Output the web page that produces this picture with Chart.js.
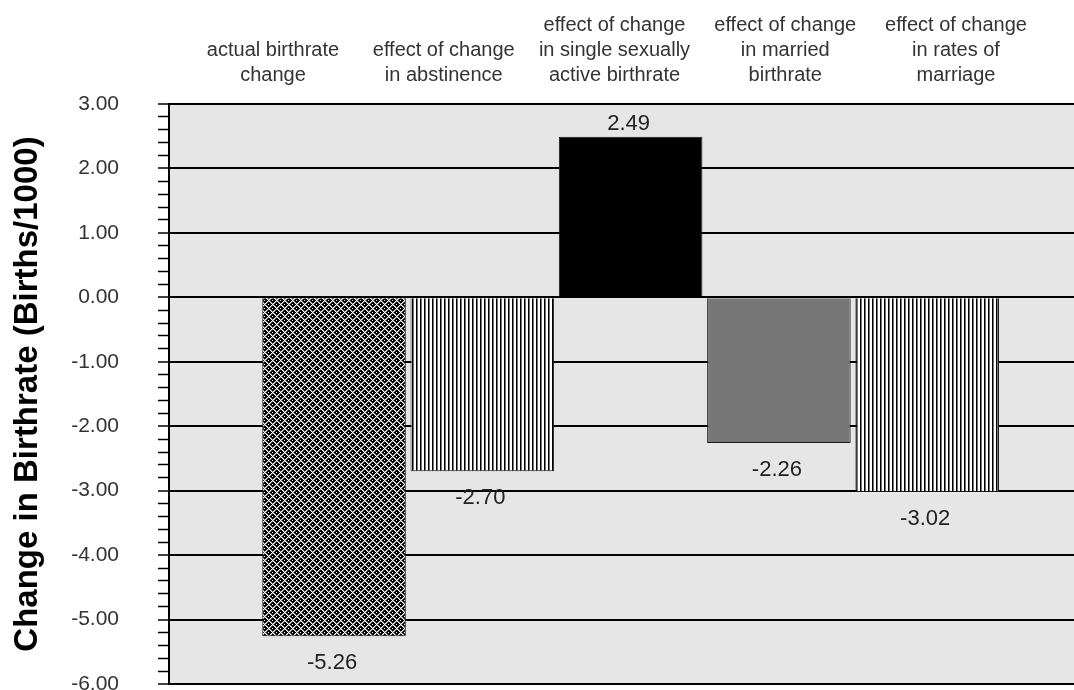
<!DOCTYPE html>
<html>
<head>
<meta charset="utf-8">
<script src="https://cdn.jsdelivr.net/npm/chart.js@4.4.1/dist/chart.umd.min.js"></script>
<style>
  html, body { margin: 0; padding: 0; background: #ffffff; }
  #wrap { width: 1074px; height: 690px; position: relative; }
</style>
</head>
<body>
<div id="wrap"><canvas id="chart"></canvas></div>
<script>
// Decomposition of the change in birthrate (births per 1000)
const categories = [
  ['actual birthrate', 'change'],
  ['effect of change', 'in abstinence'],
  ['effect of change', 'in single sexually', 'active birthrate'],
  ['effect of change', 'in married', 'birthrate'],
  ['effect of change', 'in rates of', 'marriage']
];
const changeValues = [-5.26, -2.70, 2.49, -2.26, -3.02];
const axisTitle = 'Change in Birthrate (Births/1000)';

const FONT = "'Liberation Sans', Arial, Helvetica, sans-serif";
const canvas = document.getElementById('chart');
const g2d = canvas.getContext('2d');

// small repeating bitmap tiles used as bar fills
function tilePattern(w, h, isDark) {
  const t = document.createElement('canvas');
  t.width = w; t.height = h;
  const c = t.getContext('2d');
  const img = c.createImageData(w, h);
  for (let y = 0; y < h; y++) {
    for (let x = 0; x < w; x++) {
      const k = (y * w + x) * 4;
      const v = isDark(x, y);          // 0 = white, 1 = black, fractions = grey
      const lum = Math.round(255 * (1 - v));
      img.data[k] = img.data[k + 1] = img.data[k + 2] = lum;
      img.data[k + 3] = 255;
    }
  }
  c.putImageData(img, 0, 0);
  return g2d.createPattern(t, 'repeat');
}
const mod = (a, n) => ((a % n) + n) % n;
// black diamonds separated by a white diagonal lattice, with a white dot in each diamond
const lattice = tilePattern(8, 8, (x, y) => {
  const d1 = mod(x - y, 8), d2 = mod(x + y, 8);
  if (d1 === 0 || d2 === 0) return 0;
  if (d1 === 4 && d2 === 4) return 0;
  if (d1 === 1 || d2 === 1) return 0.45;
  return 1;
});
// fine vertical hatching
const stripes = tilePattern(4, 4, (x) => (x === 0 ? 1 : x === 1 ? 0.55 : 0));
const barFills = [lattice, stripes, '#000000', '#777777', stripes];

const isWhole = v => Math.abs(v - Math.round(v)) < 1e-6;

// light grey plotting panel
const plotBackground = {
  id: 'plotBackground',
  beforeDraw(chart) {
    const { ctx, chartArea: a } = chart;
    ctx.save();
    ctx.fillStyle = '#e6e6e6';
    ctx.fillRect(a.left, a.top, a.right - a.left, a.bottom - a.top);
    ctx.restore();
  }
};

// value printed above positive bars and below negative ones
const valueLabels = {
  id: 'valueLabels',
  afterDatasetsDraw(chart) {
    const { ctx } = chart;
    const meta = chart.getDatasetMeta(0);
    ctx.save();
    ctx.font = '22px ' + FONT;
    ctx.fillStyle = '#222';
    ctx.textAlign = 'center';
    ctx.textBaseline = 'middle';
    meta.data.forEach((bar, i) => {
      const v = changeValues[i];
      const y = v >= 0 ? bar.y - 13 : bar.y + 27;
      ctx.fillText(v.toFixed(2), bar.x - 2, y);
    });
    ctx.restore();
  }
};

new Chart(canvas, {
  type: 'bar',
  data: {
    datasets: [{
      data: changeValues.map((v, i) => ({ x: i, y: v })),
      backgroundColor: barFills,
      borderColor: '#1a1a1a',
      borderWidth: 1,
      barPercentage: 0.978,
      categoryPercentage: 1,
      xAxisID: 'x',
      yAxisID: 'y'
    }]
  },
  options: {
    responsive: true,
    maintainAspectRatio: false,
    animation: false,
    layout: { padding: { left: 0, right: 0, top: 0, bottom: 6 } },
    plugins: { legend: { display: false }, tooltip: { enabled: false } },
    scales: {
      x: { type: 'linear', display: false, offset: false, min: -1.113, max: 4.99 },
      xTop: {
        type: 'linear',
        position: 'top',
        offset: false,
        min: -0.609,
        max: 4.691,
        afterBuildTicks: s => { s.ticks = categories.map((_, i) => ({ value: i })); },
        afterFit: s => { s.height = 104; },
        ticks: {
          autoSkip: false, maxRotation: 0, minRotation: 0,
          callback: (v, i) => categories[i],
          font: { family: FONT, size: 20, lineHeight: 1.25 },
          color: '#333',
          padding: 16
        },
        grid: { display: false, drawTicks: false, offset: false },
        border: { display: false }
      },
      y: {
        min: -6,
        max: 3,
        afterFit: s => { s.width = 169; s.paddingTop = 0; s.paddingBottom = 0; },
        ticks: {
          stepSize: 0.2,
          autoSkip: false,
          padding: 39,
          color: '#333',
          font: { family: FONT, size: 21 },
          callback: v => isWhole(v) ? v.toFixed(2) : ''
        },
        grid: {
          drawOnChartArea: true,
          color: c => (c.tick && isWhole(c.tick.value)) ? '#000' : 'rgba(0,0,0,0)',
          lineWidth: c => (c.tick && isWhole(c.tick.value)) ? 2 : 1,
          tickColor: '#000',
          tickWidth: 1.5,
          tickLength: 11
        },
        border: { display: true, color: '#000', width: 2 },
        title: {
          display: true,
          text: axisTitle,
          color: '#000',
          font: { family: FONT, size: 33, weight: 'bold' },
          padding: { top: 8, bottom: 0 }
        }
      }
    }
  },
  plugins: [plotBackground, valueLabels]
});
</script>
</body>
</html>
